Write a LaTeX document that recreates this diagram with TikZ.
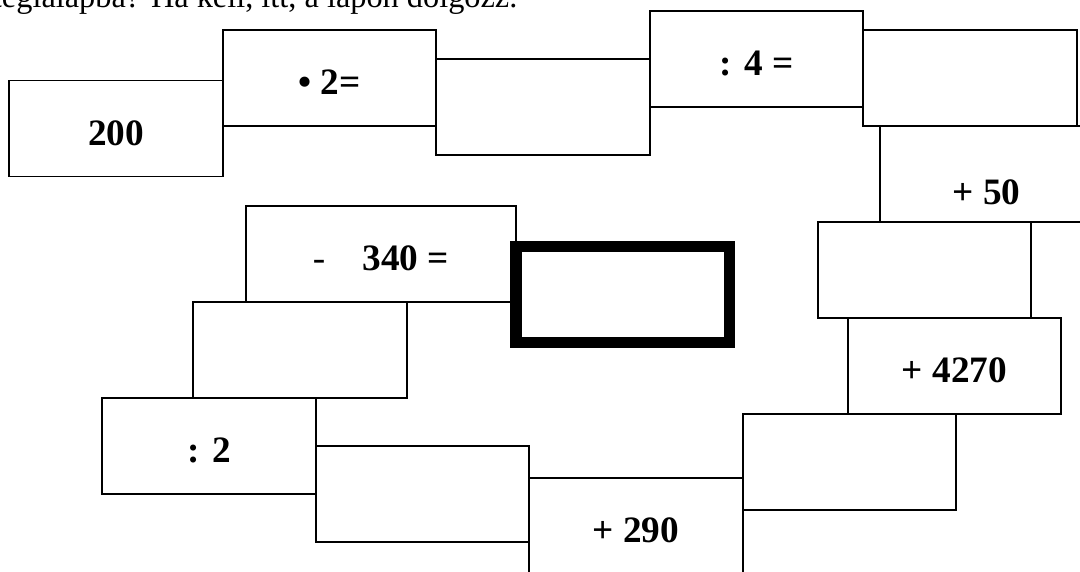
\documentclass[tikz,border=0pt]{standalone}
\usepackage{fontspec}
\setmainfont{Liberation Serif}
\usetikzlibrary{positioning}

\begin{document}
\begin{tikzpicture}
		% Define styles
		\tikzset{
			cell/.style={rectangle, draw, line width=1.2pt, minimum width=5.3375cm, minimum height=2.4cm, inner sep=0pt, outer sep=0pt, font=\fontsize{26.5}{30}\selectfont\bfseries, text height=24pt, text depth=0pt},
			goal/.style={cell, line width=8.3pt},
			task/.style={inner sep=0pt, outer sep=0pt, anchor=base west, font=\fontsize{23}{27}\selectfont}
		}
		
		% Frame
		\useasboundingbox (0,0) rectangle (27,-14.3);
		\clip (0,0) rectangle (27,-14.3);
		
		% Nodes
		\node[task] (intro) at (-0.175,-0.2) {téglalapba? Ha kell, itt, a lapon dolgozz.};
		
		\node[cell] (start) at (2.9,-3.2125) {200};
		\node[cell, right=0pt of start, yshift=1.2625cm] (mul) {• 2=};
		\node[cell, right=0pt of mul, yshift=-0.725cm] (r1) {};
		\node[cell, right=0pt of r1, yshift=1.2cm] (div4) {: 4 =};
		\node[cell, right=0pt of div4, yshift=-0.475cm] (r2) {};
		
		\node[cell, below=0pt of r2, xshift=0.4125cm, text height=44pt] (add50) {+ 50};
		\node[cell, below=0pt of add50, xshift=-1.55cm] (r3) {};
		\node[cell, below=0pt of r3, xshift=0.75cm] (add4270) {+ 4270};
		\node[cell, below=0pt of add4270, xshift=-2.625cm] (r4) {};
		
		\node[cell, left=0pt of r4, yshift=-1.6cm] (add290) {+ 290};
		\node[cell, left=0pt of add290, yshift=0.8cm] (r5) {};
		\node[cell, left=0pt of r5, yshift=1.2cm] (div2) {: 2};
		
		\node[cell, above=0pt of div2, xshift=2.275cm] (r6) {};
		\node[cell, above=0pt of r6, xshift=2.025cm, minimum width=6.75cm] (sub) {{\mdseries -}\hspace{1em}340 =};
		\node[goal, right=0pt of sub, yshift=-1.0125cm] (result) {};
	\end{tikzpicture}
\end{document}
